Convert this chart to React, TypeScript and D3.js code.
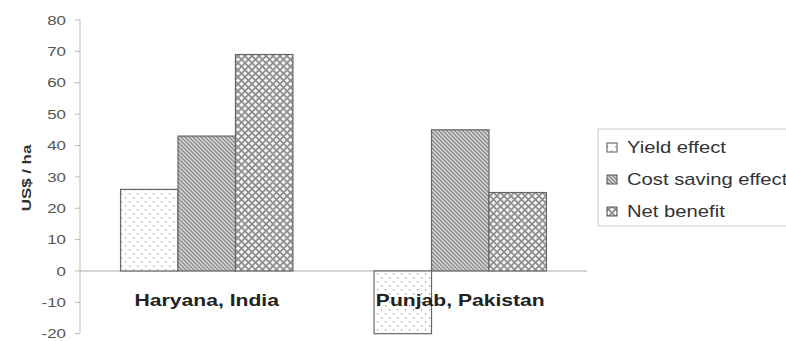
import { useRef, useEffect } from "react";
import * as d3 from "d3";

const regions = ["Haryana, India", "Punjab, Pakistan"];
const seriesNames = ["Yield effect", "Cost saving effect", "Net benefit"];
const yieldEffect = [26, -20];
const costSaving = [43, 45];
const netBenefit = [69, 25];
const yTicks = [-20, -10, 0, 10, 20, 30, 40, 50, 60, 70, 80];

const W = 786;
const H = 341;
const FONT = "Liberation Sans, Arial, sans-serif";

export default function App() {
  const svgRef = useRef<SVGSVGElement>(null);

  useEffect(() => {
    if (!svgRef.current) return;
    const svg = d3.select(svgRef.current);
    svg.selectAll("*").remove();

    const left = 80;
    const right = 587;
    const top = 20;
    const bottom = 333.7;

    // patterns
    const defs = svg.append("defs");
    const dots = defs
      .append("pattern")
      .attr("id", "p0")
      .attr("patternUnits", "userSpaceOnUse")
      .attr("width", 8)
      .attr("height", 8);
    dots.append("rect").attr("width", 8).attr("height", 8).attr("fill", "#fff");
    dots.append("rect").attr("x", 1).attr("y", 1).attr("width", 1.2).attr("height", 1.6).attr("fill", "#aaa");
    dots.append("rect").attr("x", 5).attr("y", 5).attr("width", 1.2).attr("height", 1.6).attr("fill", "#aaa");

    const diag = defs
      .append("pattern")
      .attr("id", "p1")
      .attr("patternUnits", "userSpaceOnUse")
      .attr("width", 4)
      .attr("height", 4);
    diag.append("rect").attr("width", 4).attr("height", 4).attr("fill", "#d8d8d8");
    diag
      .append("path")
      .attr("d", "M-1,-1 L5,5 M-1,3 L1,5 M3,-1 L5,1")
      .attr("stroke", "#8a8a8a")
      .attr("stroke-width", 1.3);

    const cross = defs
      .append("pattern")
      .attr("id", "p2")
      .attr("patternUnits", "userSpaceOnUse")
      .attr("width", 7)
      .attr("height", 7);
    cross.append("rect").attr("width", 7).attr("height", 7).attr("fill", "#f4f4f4");
    cross
      .append("path")
      .attr("d", "M0,0 L7,7 M7,0 L0,7")
      .attr("stroke", "#8c8c8c")
      .attr("stroke-width", 1.6);

    const y = d3.scaleLinear().domain([-20, 80]).range([bottom, top]);
    const x0 = d3.scaleBand<string>().domain(regions).range([left, right]).paddingInner(0.32).paddingOuter(0.16);
    const x1 = d3.scaleBand<string>().domain(seriesNames).range([0, x0.bandwidth()]);

    const values = [yieldEffect, costSaving, netBenefit];

    // y axis
    const axis = svg.append("g").attr("transform", `translate(${left},0)`);
    axis
      .append("line")
      .attr("y1", y(80))
      .attr("y2", y(-20))
      .attr("stroke", "#bbb");
    yTicks.forEach((t) => {
      axis
        .append("line")
        .attr("x1", -5)
        .attr("x2", 0)
        .attr("y1", y(t))
        .attr("y2", y(t))
        .attr("stroke", "#bbb");
      axis
        .append("text")
        .attr("transform", `translate(-14,${y(t)}) scale(1.3,1)`)
        .attr("dy", "0.36em")
        .attr("text-anchor", "end")
        .attr("font-family", FONT)
        .attr("font-size", 13)
        .attr("fill", "#555")
        .text(t);
    });

    svg
      .append("text")
      .attr("transform", `translate(31,178) rotate(-90) scale(1.3,1)`)
      .attr("text-anchor", "middle")
      .attr("font-family", FONT)
      .attr("font-size", 13)
      .attr("font-weight", "bold")
      .attr("fill", "#333")
      .text("US$ / ha");

    // zero line
    svg
      .append("line")
      .attr("x1", left)
      .attr("x2", right)
      .attr("y1", y(0))
      .attr("y2", y(0))
      .attr("stroke", "#aaa");

    // bars
    regions.forEach((r, i) => {
      seriesNames.forEach((s, j) => {
        const v = values[j][i];
        svg
          .append("rect")
          .attr("x", (x0(r) ?? 0) + (x1(s) ?? 0))
          .attr("y", y(Math.max(0, v)))
          .attr("width", x1.bandwidth())
          .attr("height", Math.abs(y(v) - y(0)))
          .attr("fill", `url(#p${j})`)
          .attr("stroke", "#666")
          .attr("stroke-width", 1.2);
      });
    });

    // category labels
    regions.forEach((r) => {
      svg
        .append("text")
        .attr("transform", `translate(${(x0(r) ?? 0) + x0.bandwidth() / 2},306) scale(1.32,1)`)
        .attr("text-anchor", "middle")
        .attr("font-family", FONT)
        .attr("font-size", 16)
        .attr("font-weight", "bold")
        .attr("fill", "#222")
        .text(r);
    });

    // legend
    const lg = svg.append("g").attr("transform", "translate(598,129)");
    lg.append("rect")
      .attr("width", 200)
      .attr("height", 97)
      .attr("fill", "#fff")
      .attr("stroke", "#ccc");
    seriesNames.forEach((s, j) => {
      const base = 24 + j * 32;
      lg.append("rect")
        .attr("x", 9)
        .attr("y", base - 10)
        .attr("width", 10)
        .attr("height", 9)
        .attr("fill", `url(#p${j})`)
        .attr("stroke", "#555");
      lg.append("text")
        .attr("transform", `translate(29,${base}) scale(1.19,1)`)
        .attr("font-family", FONT)
        .attr("font-size", 17)
        .attr("fill", "#333")
        .text(s);
    });
  }, []);

  return (
    <svg
      ref={svgRef}
      width={W}
      height={H}
      style={{ position: "absolute", left: 0, top: 0, background: "#fff" }}
    />
  );
}
